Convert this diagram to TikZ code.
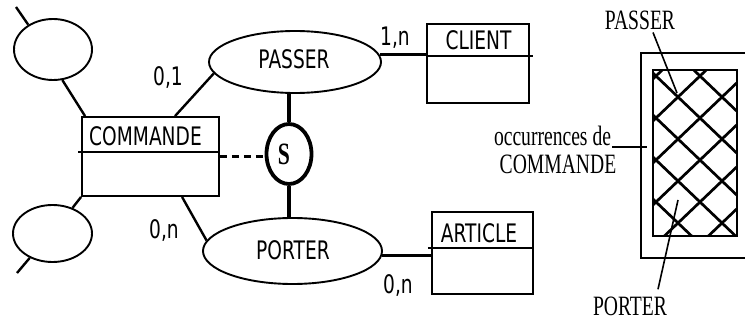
\documentclass[tikz,border=0pt]{standalone}
\usepackage{fontspec}
\usetikzlibrary{shapes.geometric,calc}
\newfontfamily\ersans[FakeStretch=0.73]{DejaVu Sans}
\newfontfamily\erserif[FakeStretch=0.70]{Liberation Serif}
\tikzset{
  boxline/.style={line width=1.9pt},
  entbox/.style={draw,boxline,rectangle,inner sep=0pt},
  assoc/.style={draw,boxline,ellipse,inner sep=0pt},
  link/.style={line width=2.4pt},
  heavy/.style={line width=3.8pt},
  dashlink/.style={line width=3.6pt,dash pattern=on 7pt off 5pt},
  sanslbl/.style={font=\ersans\fontsize{25.5pt}{30pt}\selectfont,inner sep=0pt,anchor=base},
  seriflbl/.style={font=\erserif\fontsize{28pt}{32pt}\selectfont,inner sep=0pt,anchor=base},
  hatch/.style={line width=2.7pt},
  leader/.style={line width=1.6pt}
}
\begin{document}
\begin{tikzpicture}[x=1pt,y=-1pt]
  \fill[white] (0,0) rectangle (745,321);
  \useasboundingbox (0,0) rectangle (745,321);

  % entities
  \node[entbox,minimum width=137pt,minimum height=79pt] (cmd) at (150.5,156.5) {};
  \node[entbox,minimum width=102.5pt,minimum height=78.5pt] (client) at (478,63.5) {};
  \node[entbox,minimum width=101pt,minimum height=82pt] (article) at (482.2,253) {};
  \draw[boxline] ($(cmd.north west)+(-3,35.5)$) -- ($(cmd.north east)+(0,35.5)$);
  \draw[boxline] ($(client.north west)+(0,32.5)$) -- ($(client.north east)+(2.5,32.5)$);
  \draw[boxline] ($(article.north west)+(-3,37)$) -- ($(article.north east)+(0,37)$);
  \node[sanslbl] (cmdname) at (145.5,146) {COMMANDE};
  \node[sanslbl] (clientname) at (478.5,50) {CLIENT};
  \node[sanslbl] (articlename) at (479,242) {ARTICLE};

  % associations
  \node[assoc,minimum width=172pt,minimum height=62pt] (passer) at (295,62) {};
  \node[assoc,minimum width=179pt,minimum height=66pt] (porter) at (292.5,251) {};
  \node[sanslbl] (passername) at (294,69) {PASSER};
  \node[sanslbl] (portername) at (293,259) {PORTER};

  % unnamed side associations of COMMANDE
  \node[assoc,minimum width=78pt,minimum height=61pt] (e1) at (53,49.5) {};
  \node[assoc,minimum width=79pt,minimum height=57pt] (e2) at (52.5,233.5) {};
  \coordinate (e1out) at (16,7);
  \coordinate (e2out) at (17,273);

  % sub-type constraint S
  \node[draw,heavy,ellipse,inner sep=0pt,minimum width=45pt,minimum height=60pt] (sel) at (289,154) {};
  \node[font=\erserif\bfseries\fontsize{31pt}{34pt}\selectfont,inner sep=0pt] (slbl) at (284,154) {S};

  % connectors
  \draw[link] (e1out) -- (e1.135);
  \draw[link] (e1.-73) -- ($(cmd.north west)+(4,0)$);
  \draw[link] (cmd.south west) -- (e2.52);
  \draw[link] (e2.-133) -- (e2out);
  \draw[link] ($(cmd.north west)+(94,0)$) -- (passer.-172);
  \draw[link] ($(cmd.south west)+(101,0)$) -- (porter.173);
  \draw[link] (passer.5) -- (passer.5 -| client.west);
  \draw[link] (porter.-3) -- (porter.-3 -| article.west);
  \draw[heavy] (sel.north) -- (sel.north |- passer.south);
  \draw[heavy] (sel.south) -- (sel.south |- porter.north);
  \draw[dashlink] (cmd.east) -- (cmd.east -| sel.west);

  % cardinalities
  \node[sanslbl] (c1) at (168,86) {0,1};
  \node[sanslbl] (c2) at (395,46) {1,n};
  \node[sanslbl] (c3) at (164,238) {0,n};
  \node[sanslbl] (c4) at (398,293) {0,n};

  % occurrence diagram
  \draw[boxline] (745,53) -- (641,53) -- (641,258) -- (745,258);
  \node[fill=white,inner sep=0pt,minimum width=84pt,minimum height=166pt] (occ) at (695,153) {};
  \begin{scope}
    \clip (occ.south west) rectangle (occ.north east);
    \foreach \k in {-6,...,6} {
      \draw[hatch] (678+44*\k-22*6, 97-21*6) -- (678+44*\k+22*8, 97+21*8);
      \draw[hatch] (678+44*\k+22*6, 97-21*6) -- (678+44*\k-22*8, 97+21*8);
    }
  \end{scope}
  \draw[boxline] (occ.south west) rectangle (occ.north east);

  \node[seriflbl] (passerlbl) at (640,30) {PASSER};
  \node[seriflbl] (occlbl) at (552.5,146) {occurrences de};
  \node[seriflbl] (cmdlbl) at (558,173) {COMMANDE};
  \node[seriflbl] (porterlbl) at (630,315) {PORTER};
  \coordinate (passerpt) at (677,93);
  \coordinate (occpt) at (647,147);
  \coordinate (porterpt) at (678,200);
  \draw[leader] ($(passerlbl.south)+(13,2)$) -- (passerpt);
  \draw[leader] ($(occlbl.base east)+(1,1)$) -- (occpt);
  \draw[leader] ($(porterlbl.north)+(28,-7)$) -- (porterpt);
\end{tikzpicture}
\end{document}
